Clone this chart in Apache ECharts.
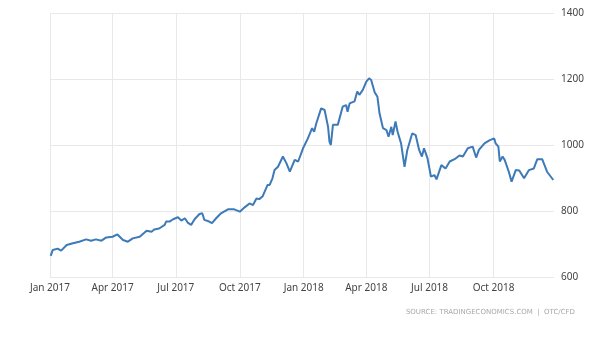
<!DOCTYPE html>
<html>
<head>
<meta charset="utf-8">
<script src="https://cdn.jsdelivr.net/npm/echarts@6/dist/echarts.min.js"></script>
<style>
html,body{margin:0;padding:0;background:#fff;}
#chart{width:600px;height:340px;}
</style>
</head>
<body>
<div id="chart"></div>
<script>
const dates = [
'2017-01-02','2017-01-05','2017-01-12','2017-01-17','2017-01-25','2017-02-03','2017-02-12','2017-02-22',
'2017-03-01','2017-03-08','2017-03-16','2017-03-23','2017-04-01','2017-04-08','2017-04-16','2017-04-23',
'2017-04-30','2017-05-10','2017-05-20','2017-05-27','2017-05-31','2017-06-07','2017-06-15','2017-06-17',
'2017-06-22','2017-06-27','2017-07-04','2017-07-09','2017-07-14','2017-07-18','2017-07-23','2017-07-28',
'2017-08-04','2017-08-08','2017-08-11','2017-08-18','2017-08-22','2017-08-28','2017-09-04','2017-09-14',
'2017-09-23','2017-10-01','2017-10-08','2017-10-15','2017-10-20','2017-10-25','2017-10-29','2017-11-03',
'2017-11-10','2017-11-13','2017-11-17','2017-11-20','2017-11-25','2017-12-02','2017-12-07','2017-12-12',
'2017-12-19','2017-12-24','2017-12-31','2018-01-07','2018-01-13','2018-01-16','2018-01-19','2018-01-26',
'2018-01-31','2018-02-05','2018-02-07','2018-02-09','2018-02-12','2018-02-19','2018-02-26','2018-03-03',
'2018-03-05','2018-03-08','2018-03-15','2018-03-19','2018-03-22','2018-03-27','2018-04-01','2018-04-05',
'2018-04-08','2018-04-13','2018-04-17','2018-04-20','2018-04-25','2018-04-30','2018-05-03','2018-05-07',
'2018-05-09','2018-05-13','2018-05-16','2018-05-21','2018-05-26','2018-05-30','2018-06-06','2018-06-11',
'2018-06-16','2018-06-20','2018-06-23','2018-06-28','2018-07-03','2018-07-08','2018-07-11','2018-07-18',
'2018-07-24','2018-07-30','2018-08-06','2018-08-13','2018-08-18','2018-08-25','2018-09-01','2018-09-06',
'2018-09-10','2018-09-18','2018-09-25','2018-10-02','2018-10-04','2018-10-08','2018-10-10','2018-10-14',
'2018-10-17','2018-10-23','2018-10-27','2018-11-02','2018-11-07','2018-11-14','2018-11-21','2018-11-28',
'2018-12-03','2018-12-10','2018-12-17','2018-12-26'
];
const values = [
664,682,686,680,697,702,707,714,
710,714,710,720,722,729,712,707,
717,722,740,737,744,747,758,768,
768,775,781,771,778,765,758,775,
791,793,773,768,763,778,793,805,
805,798,811,823,818,838,836,845,
879,879,899,924,934,965,945,919,
955,950,990,1020,1051,1040,1065,1111,
1106,1055,1010,1000,1061,1061,1116,1121,
1101,1126,1132,1162,1152,1167,1192,1202,
1197,1160,1146,1096,1051,1045,1025,1055,
1030,1071,1040,1005,934,985,1035,1030,
985,965,990,960,904,909,896,939,
929,950,957,968,965,990,995,962,
985,1005,1014,1020,1005,995,950,965,
955,919,889,924,923,899,924,929,
957,957,919,894
];
const yTicks = [600, 800, 1000, 1200, 1400];
const monthNames = ['Jan','Feb','Mar','Apr','May','Jun','Jul','Aug','Sep','Oct','Nov','Dec'];
const sourceText = 'SOURCE: TRADINGECONOMICS.COM  |  OTC/CFD';

const chart = echarts.init(document.getElementById('chart'), null, {renderer:'canvas'});
chart.setOption({
  animation:false,
  backgroundColor:'#ffffff',
  grid:{left:50,right:46,top:13,bottom:63,containLabel:false},
  graphic:[{
    type:'text', right:25, top:309,
    style:{text:sourceText, fill:'#a8a8a8', font:'7px "DejaVu Sans"'}
  }],
  xAxis:{
    type:'time',
    min:'2017-01-01',
    max:'2018-12-27',
    splitNumber:8,
    minInterval:80*86400000,
    maxInterval:95*86400000,
    axisLine:{show:false},
    axisTick:{show:false},
    splitLine:{show:true,showMaxLine:false,lineStyle:{color:'#e8e8e8',width:1}},
    axisLabel:{
      color:'#444',
      fontFamily:'Noto Sans',
      fontSize:10,
      margin:6,
      hideOverlap:false,
      showMaxLabel:false,
      formatter:function(v){const d=new Date(v);return monthNames[d.getMonth()]+' '+d.getFullYear();}
    }
  },
  yAxis:{
    type:'value',
    position:'right',
    min:yTicks[0],
    max:yTicks[yTicks.length-1],
    interval:200,
    axisLine:{show:false},
    axisTick:{show:false},
    splitLine:{show:true,lineStyle:{color:'#e8e8e8',width:1}},
    axisLabel:{color:'#444',fontFamily:'Noto Sans',fontSize:10,margin:7,formatter:function(v){return String(v);}}
  },
  series:[{
    type:'line',
    data:dates.map((d,i)=>[d,values[i]]),
    showSymbol:false,
    smooth:false,
    lineStyle:{color:'#3d7ab8',width:2},
    itemStyle:{color:'#3d7ab8'}
  }]
});
</script>
</body>
</html>
